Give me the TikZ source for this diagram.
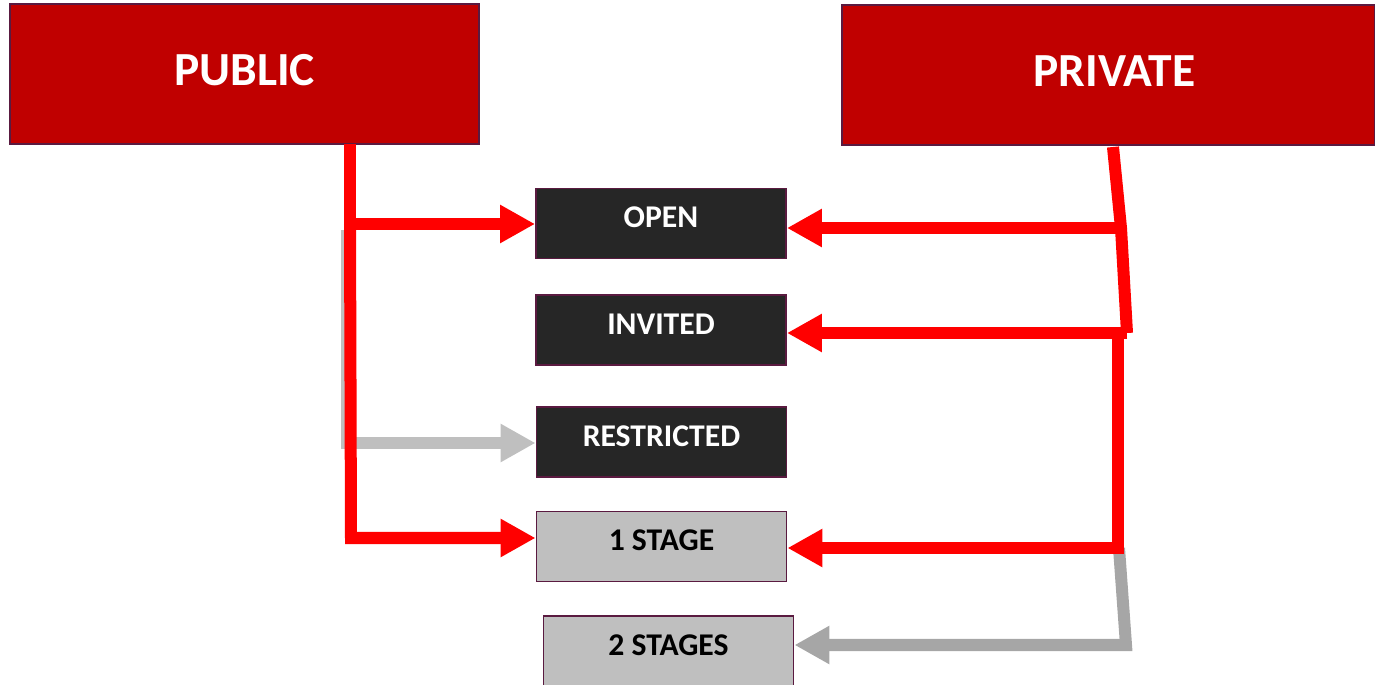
\documentclass[tikz,border=0pt]{standalone}
\usepackage{fontspec}
\setmainfont{Carlito}
\usepackage{tikz}
\usetikzlibrary{arrows.meta}

\definecolor{hdred}{HTML}{C00000}
\definecolor{arred}{HTML}{FF0000}
\definecolor{darkbox}{HTML}{262626}
\definecolor{greybox}{HTML}{BFBFBF}
\definecolor{greyline}{HTML}{A6A6A6}
\definecolor{boxline}{HTML}{5A1A40}

\tikzset{
  boxnode/.style={draw=boxline, line width=0.5pt, inner sep=0pt},
  headbox/.style={boxnode, fill=hdred, text=white, minimum height=1.4cm,
    text height=0.3cm, text depth=0.08cm, font=\bfseries\fontsize{13.5}{16}\selectfont},
  darknode/.style={boxnode, fill=darkbox, text=white, minimum width=2.5cm, minimum height=0.7cm,
    text height=0.2cm, text depth=0.12cm, font=\bfseries\fontsize{9}{11}\selectfont},
  greynode/.style={darknode, fill=greybox, text=black},
  redline/.style={arred, line width=0.12cm},
  greyarrow/.style={greybox, line width=0.12cm},
  tip/.style={-{Triangle[length=0.35cm,width=0.36cm]}}
}

\begin{document}
\begin{tikzpicture}[x=0.01cm,y=-0.01cm]
  \useasboundingbox (0,0) rectangle (1375,685);
  % the two kinds of call
  \node[headbox, minimum width=4.69cm] (public) at (244.5,74) {PUBLIC};
  \node[headbox, minimum width=5.33cm] (private) at (1108.5,75) {\hspace*{0.12cm}PRIVATE};
  % the procedures
  \node[darknode] (open) at (661,223.5) {OPEN};
  \node[darknode] (invited) at (661,330) {INVITED};
  \node[darknode] (restricted) at (661.5,442) {RESTRICTED};
  \node[greynode] (stage1) at (661.5,546.5) {1 STAGE};
  \node[greynode] (stage2) at (668.5,651) {2 STAGES};

  % public side
  \coordinate (pubtop) at (350,144);
  \coordinate (pubopen) at (350,224);
  \coordinate (pubrest) at (347,443);
  \draw[greyarrow, tip] (347,230) -- (pubrest) -- (pubrest -| restricted.west);
  \draw[redline] (pubtop) -- (pubopen);
  \draw[redline, tip] (pubopen) -- (pubopen -| open.west);
  \draw[redline, tip] (pubopen) -- (351,538) -- (stage1.west |- 0,538);

  % private side
  \coordinate (pritop) at (1113,147);
  \coordinate (priopen) at (1121,228);
  \coordinate (priinv) at (1127,333);
  \coordinate (prione) at (1118,548);
  \coordinate (pritwo) at (1126,645);
  \draw[greyline, line width=0.12cm, tip] (1119,548) -- (pritwo) -- (pritwo -| stage2.east);
  \draw[redline] (pritop) -- (priopen) -- (priinv);
  \draw[redline, tip] (priopen) -- (priopen -| open.east);
  \draw[redline, tip] (priinv) -- (priinv -| invited.east);
  \draw[redline, tip] (1118,333) -- (prione) -- (prione -| stage1.east);
\end{tikzpicture}
\end{document}
